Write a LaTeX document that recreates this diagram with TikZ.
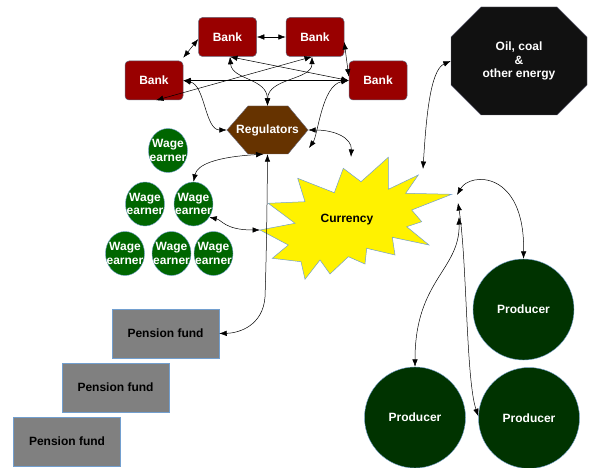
\documentclass[tikz,border=0pt]{standalone}
\usepackage{fontspec}
\setmainfont{Liberation Sans}
\usetikzlibrary{arrows.meta,shapes.geometric}
\definecolor{bankred}{RGB}{153,0,0}
\definecolor{regbrown}{RGB}{102,51,0}
\definecolor{wagegreen}{RGB}{0,102,0}
\definecolor{prodgreen}{RGB}{0,51,0}
\definecolor{oilblack}{RGB}{17,17,17}
\definecolor{edgeblue}{RGB}{114,159,207}
\definecolor{edgegray}{RGB}{100,100,120}
\definecolor{pengray}{RGB}{128,128,128}
\begin{document}
\begin{tikzpicture}[x=1pt,y=-1pt,
  txt/.style={font=\bfseries\fontsize{12}{13.5}\selectfont},
  bank/.style={txt, rectangle, rounded corners=4pt, fill=bankred, draw=edgegray, line width=0.5pt, text=white, minimum width=58pt, minimum height=39pt, inner sep=0pt},
  wage/.style={ellipse, fill=wagegreen, draw=edgeblue, line width=0.4pt, minimum width=39pt, minimum height=44pt, inner sep=0pt},
  wlabel/.style={txt, text=white, align=center, inner sep=0pt},
  prod/.style={txt, circle, fill=prodgreen, draw=edgeblue, line width=0.4pt, text=white, minimum size=101pt, inner sep=0pt},
  pension/.style={txt, rectangle, fill=pengray, draw=edgeblue, line width=0.5pt, text=black, minimum width=107pt, minimum height=49pt, inner sep=0pt},
  hidden/.style={rectangle, inner sep=0pt},
  conn/.style={{Latex[length=7.5pt,width=5.5pt]}-{Latex[length=7.5pt,width=5.5pt]}, line width=0.5pt, black},
]
\useasboundingbox (0,0) rectangle (589,468);

% Banks
\node[bank] (b1) at (227.5,37) {Bank};
\node[bank] (b2) at (315,37) {Bank};
\node[bank] (b3) at (154,80.5) {Bank};
\node[bank] (b4) at (378,80.5) {Bank};

% Regulators hexagon
\fill[regbrown, draw=edgegray, line width=0.4pt] (227,130) -- (248,106) -- (288,106) -- (308,130) -- (288,154) -- (248,154) -- cycle;
\node[hidden, txt, text=white, minimum width=81pt, minimum height=48pt] (reg) at (267.5,130) {Regulators};

% Oil octagon
\fill[oilblack, draw=edgegray, line width=0.4pt] (481,7) -- (557,7) -- (587,37) -- (587,85) -- (557,115) -- (481,115) -- (451,85) -- (451,37) -- cycle;
\node[hidden, txt, text=white, align=center, minimum width=136pt, minimum height=108pt] (oil) at (519,61) {Oil, coal\\\&\\other energy};

% Currency star
\fill[yellow, draw=edgeblue, line width=0.5pt] (297.7,178.3) -- (334.3,192.7) -- (343.3,168.3) -- (361,181.7) -- (388.3,157.3) -- (388.3,189.3) -- (418.3,175) -- (405.7,193.3) -- (451.7,194.3) -- (411.7,210) -- (421.7,221.7) -- (406.7,226.7) -- (429,245) -- (392.3,237.3) -- (395,255) -- (366.7,248.3) -- (365,264) -- (348.3,256.7) -- (330,274) -- (320,260) -- (305,279.3) -- (301,261.7) -- (272.3,258.3) -- (288.3,245) -- (260,230) -- (295,223.3) -- (268.3,203.3) -- (305,201.7) -- cycle;
\node[hidden, txt, text=black] (cur) at (347,219.5) {Currency};

% Wage earners
\node[wage, label={[wlabel]center:{Wage\\earner}}] (we1) at (168,150.5) {};
\node[wage, label={[wlabel]center:{Wage\\earner}}] (we2) at (145,204) {};
\node[wage, label={[wlabel]center:{Wage\\earner}}] (we3) at (193.5,204) {};
\node[wage, label={[wlabel]center:{Wage\\earner}}] (we4) at (125,253.5) {};
\node[wage, label={[wlabel]center:{Wage\\earner}}] (we5) at (171.5,253.5) {};
\node[wage, label={[wlabel]center:{Wage\\earner}}] (we6) at (213.5,253.5) {};

% Producers
\node[prod] (p1) at (523.5,309.5) {Producer};
\node[prod] (p2) at (415,417.5) {Producer};
\node[prod] (p3) at (529,418) {Producer};

% Pension funds
\node[pension] (pf1) at (165.5,333.5) {Pension fund};
\node[pension] (pf2) at (115.5,387.5) {Pension fund};
\node[pension] (pf3) at (67,441.5) {Pension fund};

% free connector ends
\coordinate (regbr) at (309,148);
\coordinate (curtop) at (351,157);
\coordinate (curne) at (423,169);
\coordinate (curW) at (260,230);
\coordinate (curE1) at (457,195);
\coordinate (curE2) at (458,203);
\coordinate (curE3) at (459,217);

% Connectors
\draw[conn] ([yshift=-2pt]b1.west) -- ([yshift=3pt]b3.north east);
\draw[conn] (b1.east) -- (b2.west);
\draw[conn] ([yshift=-5pt]b2.east) -- ([yshift=4pt]b4.west);
\draw[conn] (b3.east) -- (b4.west);
\draw[conn] ([xshift=2.5pt]b1.south) -- (b4.west);
\draw[conn] ([xshift=-3pt]b2.south) -- ([xshift=2pt]b3.south);
\draw[conn] ([xshift=2.5pt]b1.south) .. controls (232,80) and (267,78) .. (reg.north);
\draw[conn] ([xshift=-3pt]b2.south) .. controls (312,80) and (268,78) .. (reg.north);
\draw[conn] (b3.east) .. controls (205,85) and (205,130) .. (reg.west);
\draw[conn] (b4.west) .. controls (322,85) and (318,135) .. (regbr);
\draw[conn] (reg.east) .. controls (335,130) and (352,138) .. (curtop);
\draw[conn] (oil.west) .. controls (430,70) and (426,120) .. (curne);
\draw[conn] ([xshift=-4pt]reg.south) .. controls (215,157) and (197,165) .. (we3.north);
\draw[conn] (we3.-40) .. controls (222,220) and (225,230) .. (curW);
\draw[conn] (reg.south) .. controls (267,220) and (266,270) .. (265,297) .. controls (263,325) and (240,333) .. (pf1.east);
\draw[conn] (curE1) .. controls (470,172) and (525,170) .. (p1.north);
\draw[conn] (curE2) .. controls (467,260) and (466,380) .. (p3.178);
\draw[conn] (curE3) .. controls (460,270) and (415,280) .. (p2.north);
\end{tikzpicture}
\end{document}
